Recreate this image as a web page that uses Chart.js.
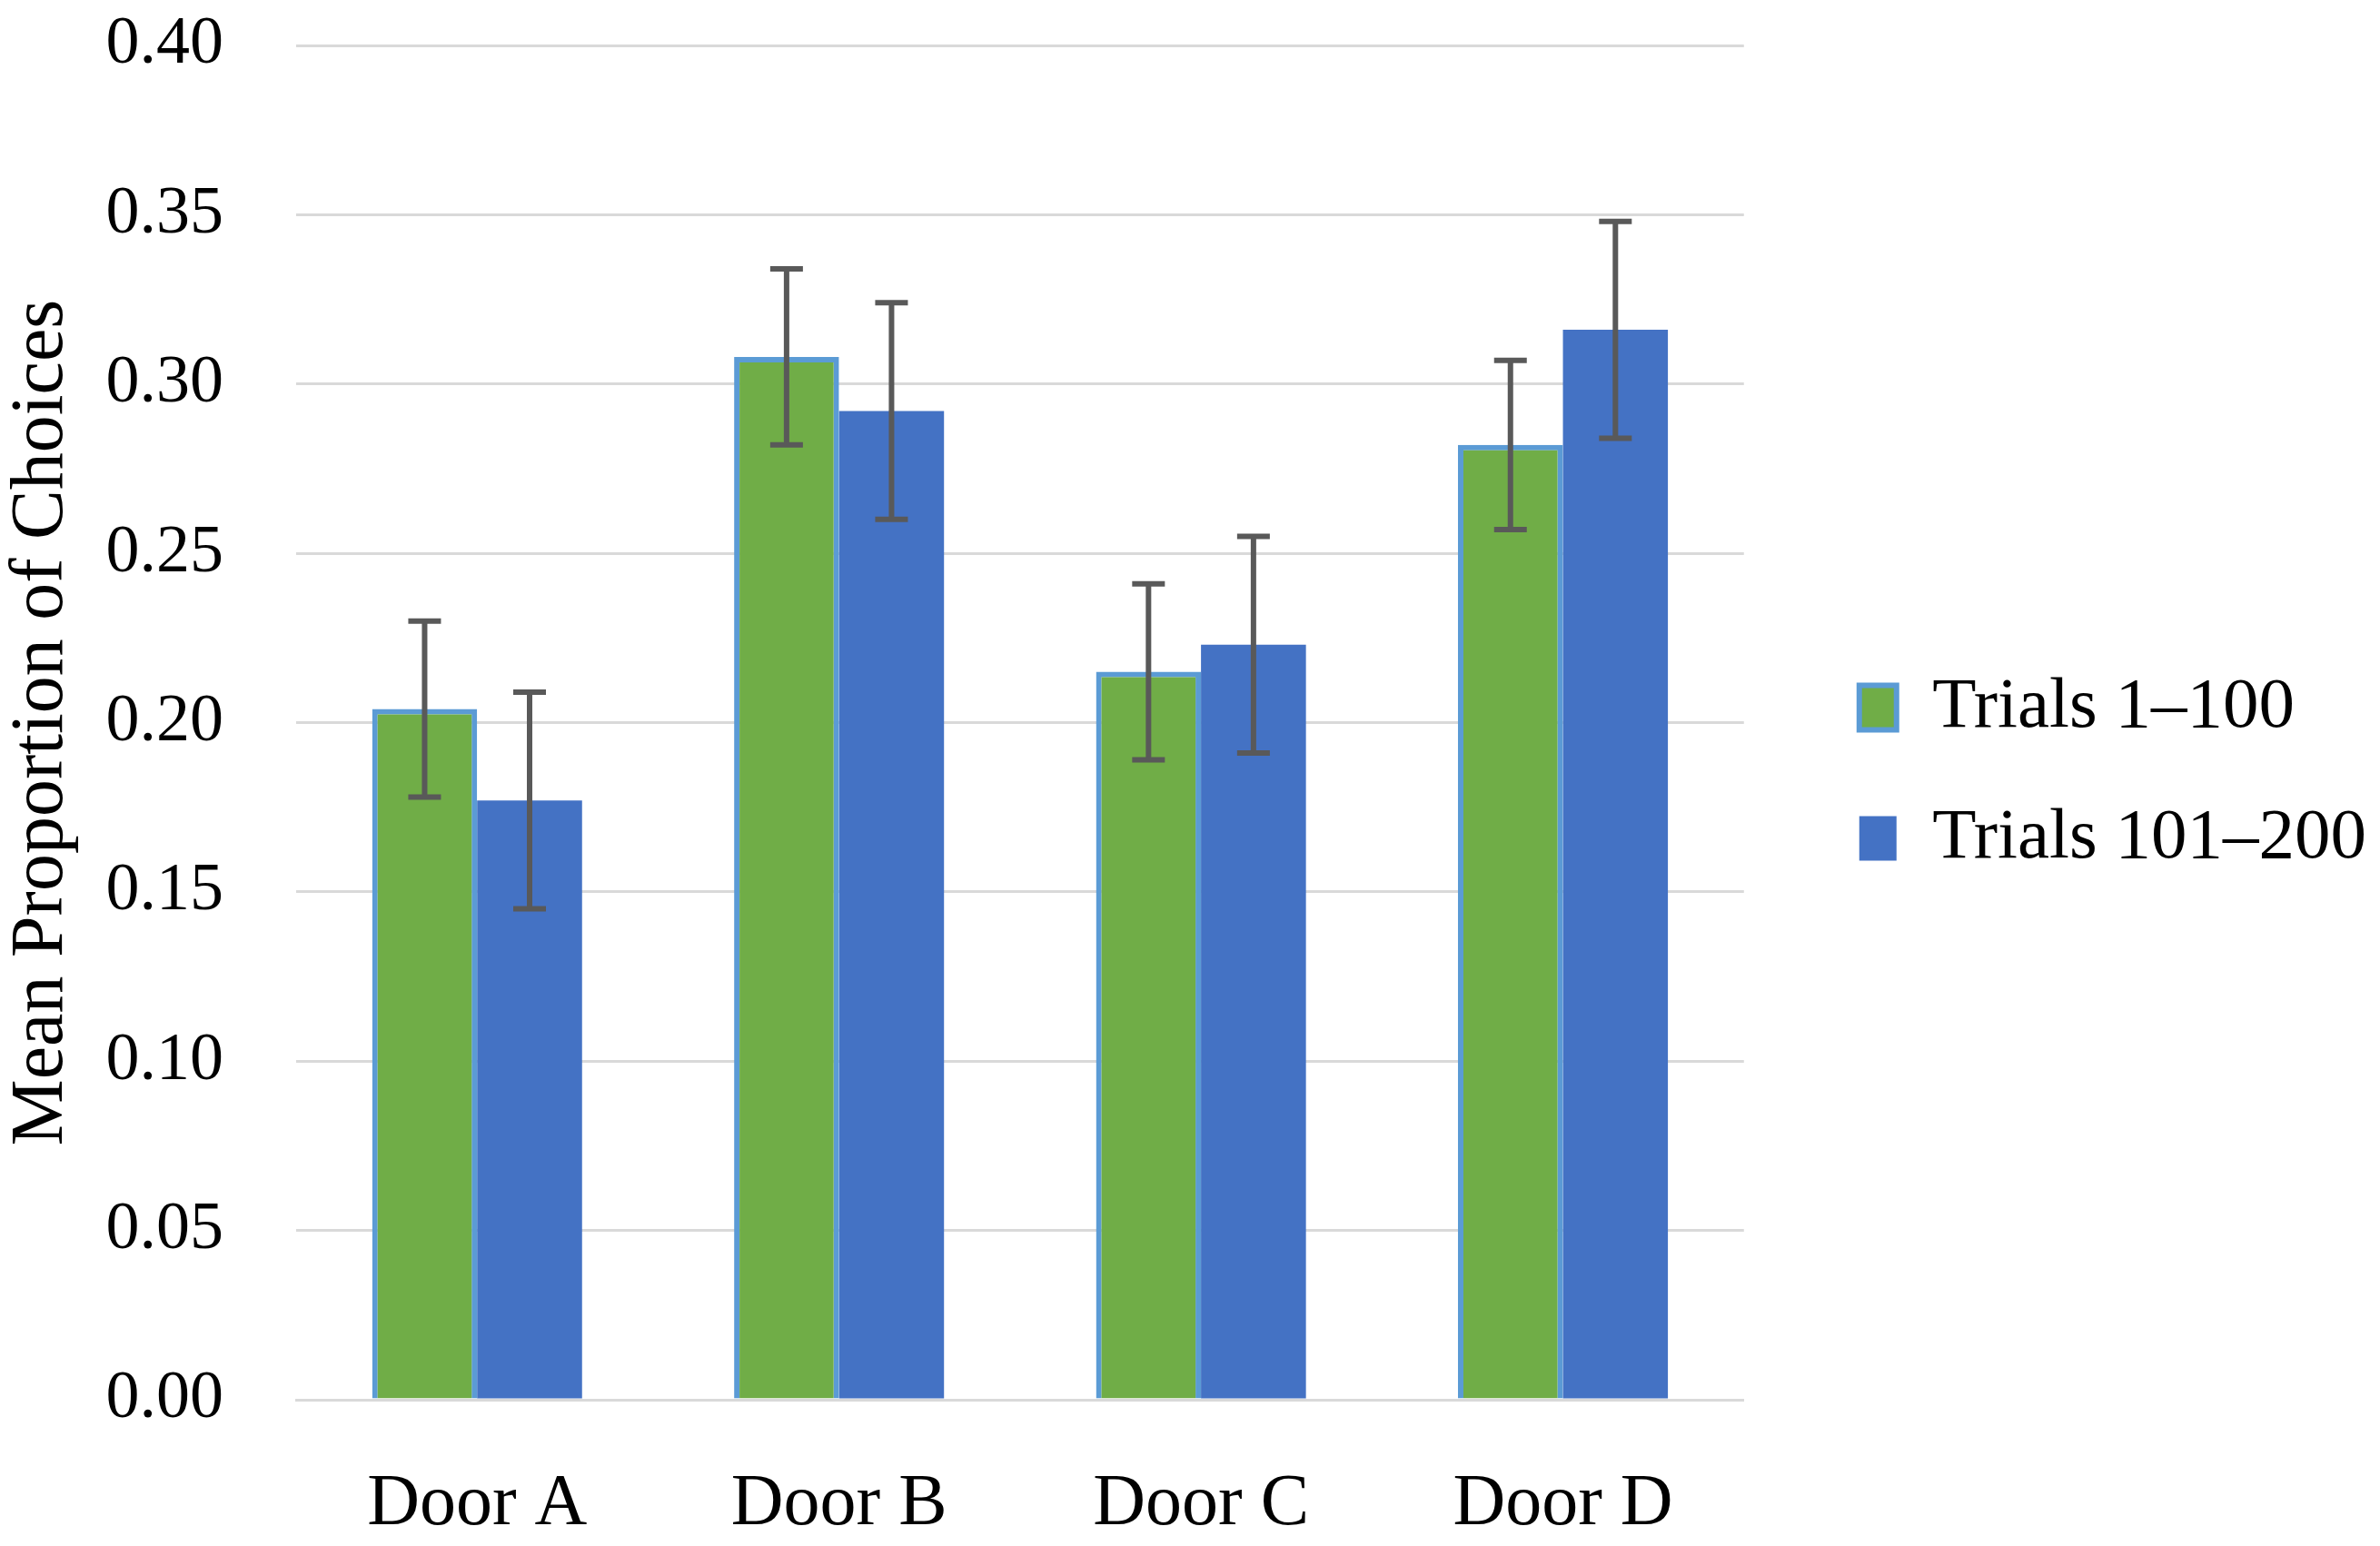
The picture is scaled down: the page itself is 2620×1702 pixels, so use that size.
<!DOCTYPE html>
<html><head><meta charset="utf-8">
<script src="https://cdn.jsdelivr.net/npm/chart.js@4/dist/chart.umd.min.js"></script>
<style>html,body{margin:0;padding:0;background:#fff;} canvas{display:block;}</style>
</head><body>
<canvas id="c" width="2620" height="1702" style="width:2620px;height:1702px"></canvas>
<script>
const categories = ['Door A', 'Door B', 'Door C', 'Door D'];
const seriesNames = ['Trials 1\u2013100', 'Trials 101\u2013200'];
const trials1to100 = [0.204, 0.308, 0.215, 0.282];
const trials1to100Err = [0.026, 0.026, 0.026, 0.025];
const trials101to200 = [0.177, 0.292, 0.223, 0.316];
const trials101to200Err = [0.032, 0.032, 0.032, 0.032];
const yTickValues = [0.00, 0.05, 0.10, 0.15, 0.20, 0.25, 0.30, 0.35, 0.40];
const yTickLabels = ['0.00', '0.05', '0.10', '0.15', '0.20', '0.25', '0.30', '0.35', '0.40'];
const yTitle = 'Mean Proportion of Choices';

const FONT = "'Liberation Serif', 'DejaVu Serif', serif";

const errorBars = {
  id: 'errorBars',
  afterDatasetsDraw(chart) {
    const ctx = chart.ctx;
    const ys = chart.scales.y;
    chart.data.datasets.forEach((ds, i) => {
      const meta = chart.getDatasetMeta(i);
      if (!ds.errors) return;
      meta.data.forEach((bar, j) => {
        const v = ds.data[j], e = ds.errors[j];
        const yt = ys.getPixelForValue(v + e);
        const yb = ys.getPixelForValue(v - e);
        const x = bar.x;
        const half = 18;
        ctx.save();
        ctx.strokeStyle = '#595959';
        ctx.lineWidth = 6;
        ctx.lineCap = 'butt';
        ctx.beginPath();
        ctx.moveTo(x, yt); ctx.lineTo(x, yb);
        ctx.moveTo(x - half, yt); ctx.lineTo(x + half, yt);
        ctx.moveTo(x - half, yb); ctx.lineTo(x + half, yb);
        ctx.stroke();
        ctx.restore();
      });
    });
  }
};

new Chart(document.getElementById('c'), {
  type: 'bar',
  data: {
    labels: categories,
    datasets: [
      {
        label: seriesNames[0],
        data: trials1to100,
        errors: trials1to100Err,
        backgroundColor: '#70AD47',
        borderColor: '#5B9BD5',
        borderWidth: 6,
        categoryPercentage: 0.58,
        barPercentage: 1.0
      },
      {
        label: seriesNames[1],
        data: trials101to200,
        errors: trials101to200Err,
        backgroundColor: '#4472C4',
        borderColor: '#4472C4',
        borderWidth: 0,
        categoryPercentage: 0.58,
        barPercentage: 1.0
      }
    ]
  },
  options: {
    responsive: false,
    animation: false,
    devicePixelRatio: 1,
    layout: { padding: { left: 5, top: 0, right: 5, bottom: 0 } },
    plugins: {
      tooltip: { enabled: false },
      legend: {
        position: 'right',
        maxWidth: 700,
        labels: {
          color: '#000',
          font: { family: FONT, size: 79 },
          boxWidth: 41,
          boxHeight: 49,
          padding: 65
        }
      }
    },
    scales: {
      x: {
        grid: { display: false },
        border: { display: true, color: '#D9D9D9', width: 3 },
        ticks: { color: '#000', font: { family: FONT, size: 80 }, padding: 60, maxRotation: 0 },
        afterFit(s) { s.height = 161; s.paddingLeft = 0; s.paddingRight = 0; }
      },
      y: {
        min: 0, max: 0.40,
        grid: { color: '#D9D9D9', lineWidth: 3, drawTicks: false },
        border: { display: false },
        afterBuildTicks(s) { s.ticks = yTickValues.map(v => ({ value: v })); },
        ticks: {
          color: '#000',
          font: { family: FONT, size: 74 },
          padding: 80,
          callback: (v, i) => yTickLabels[i]
        },
        title: {
          display: true,
          text: yTitle,
          color: '#000',
          font: { family: FONT, size: 82, lineHeight: 1 },
          padding: { top: 0, bottom: 29 }
        },
        afterFit(s) { s.width = 321; s.paddingTop = 50; s.paddingBottom = 0; }
      },
      ySpacer: {
        type: 'linear',
        position: 'right',
        display: true,
        grid: { display: false },
        border: { display: false },
        ticks: { display: false },
        afterFit(s) { s.width = 62; s.paddingTop = 0; s.paddingBottom = 0; }
      }
    }
  },
  plugins: [errorBars]
});
</script>
</body></html>
